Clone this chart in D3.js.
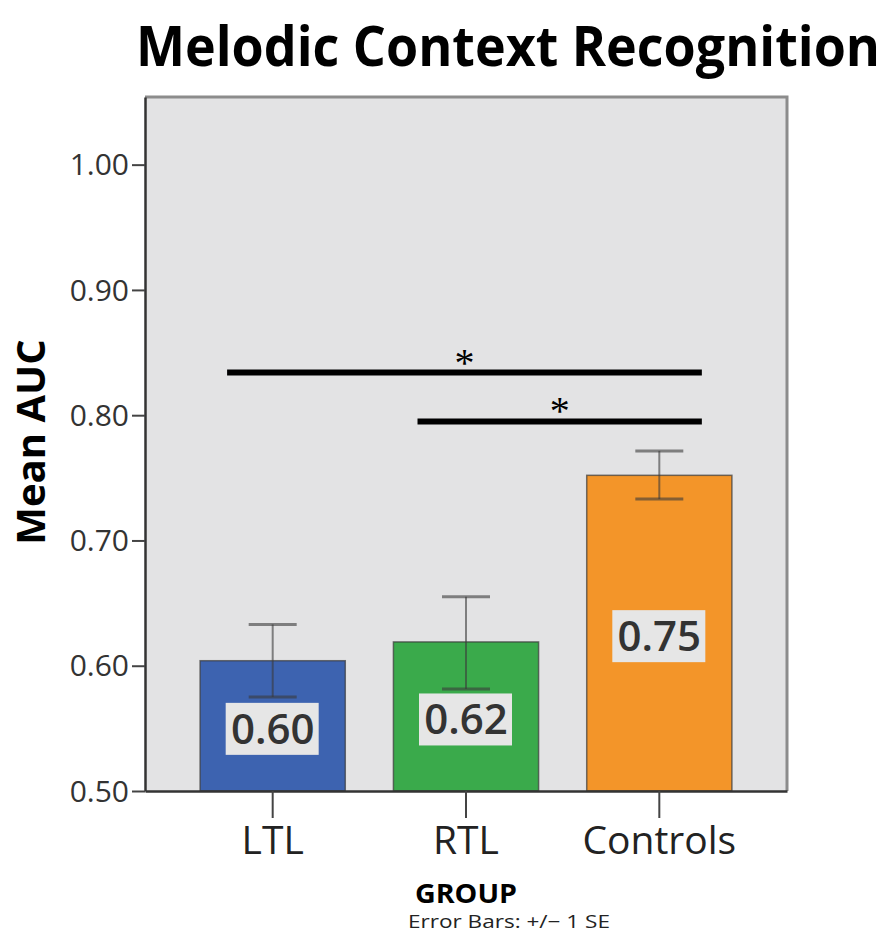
<!DOCTYPE html>
<html><head><meta charset="utf-8">
<script src="https://cdn.jsdelivr.net/npm/d3@7/dist/d3.min.js"></script>
<style>body{margin:0;background:#fff;} svg{display:block;}</style>
</head><body>
<svg id="c" width="893" height="935"></svg>
<script>
const categories = ["LTL", "RTL", "Controls"];
const means = [0.604, 0.619, 0.752];
const errLow = [0.575, 0.5815, 0.733];
const errHigh = [0.633, 0.655, 0.7715];
const valueLabels = ["0.60", "0.62", "0.75"];
const barColors = ["#3d63b0", "#3aaa4b", "#f39529"];
const yTicks = [0.5, 0.6, 0.7, 0.8, 0.9, 1.0];
const sigFrom = ["LTL", "RTL"];
const sigTo = ["Controls", "Controls"];
const sigY = [0.834, 0.795];
const sigStartFrac = [0.186, 0.166];
const sigEndFrac = [0.793, 0.793];

const svg = d3.select("#c");
const L = 145, R = 787, T = 97, B = 791;
const x = d3.scaleBand().domain(categories).range([L, R]).paddingInner(0.249).paddingOuter(0.285);
const y = d3.scaleLinear().domain([0.5, 1.054]).range([B, T]);

// plot background
svg.append("rect").attr("x", L).attr("y", T).attr("width", R - L).attr("height", B - T).attr("fill", "#e3e3e4");
// top/right frame
svg.append("path").attr("d", `M${L},${T}H${R}V${B}`).attr("fill", "none").attr("stroke", "#8c8c8c").attr("stroke-width", 3);

// bars
const bw = x.bandwidth();
svg.selectAll("rect.bar").data(categories).enter().append("rect").attr("class", "bar")
  .attr("x", d => x(d)).attr("width", bw)
  .attr("y", (d, i) => y(means[i])).attr("height", (d, i) => y(0.5) - y(means[i]))
  .attr("fill", (d, i) => barColors[i]).attr("stroke", "#3a3a3a").attr("stroke-opacity", 0.7).attr("stroke-width", 1.5);

// error bars
const eg = svg.append("g").attr("stroke", "#3a3a3a").attr("stroke-opacity", 0.6).attr("stroke-width", 2).attr("fill", "none");
categories.forEach((c, i) => {
  const cx = x(c) + bw / 2, cw = 24;
  eg.append("line").attr("x1", cx).attr("x2", cx).attr("y1", y(errLow[i])).attr("y2", y(errHigh[i]));
  eg.append("line").attr("x1", cx - cw).attr("x2", cx + cw).attr("y1", y(errLow[i])).attr("y2", y(errLow[i])).attr("stroke-width", 3);
  eg.append("line").attr("x1", cx - cw).attr("x2", cx + cw).attr("y1", y(errHigh[i])).attr("y2", y(errHigh[i])).attr("stroke-width", 3);
});

// value labels
categories.forEach((c, i) => {
  const cx = x(c) + bw / 2;
  const cy = (y(means[i]) + y(0.5)) / 2 + 3;
  svg.append("rect").attr("x", cx - 47).attr("y", cy - 26).attr("width", 93).attr("height", 52).attr("fill", "#e6e6e6");
  svg.append("text").attr("x", cx).attr("y", cy + 15).attr("text-anchor", "middle")
    .attr("font-family", "Open Sans").attr("font-size", 42).attr("font-weight", 600).attr("fill", "#333")
    .text(valueLabels[i]);
});

// significance lines
sigFrom.forEach((f, i) => {
  const x1 = x(f) + bw * sigStartFrac[i], x2 = x(sigTo[i]) + bw * sigEndFrac[i];
  svg.append("line").attr("x1", x1).attr("x2", x2).attr("y1", y(sigY[i])).attr("y2", y(sigY[i]))
    .attr("stroke", "#000").attr("stroke-width", 6);
  svg.append("text").attr("x", (x1 + x2) / 2).attr("y", y(sigY[i]) + 3).attr("text-anchor", "middle")
    .attr("font-family", "Liberation Serif").attr("font-size", 40).attr("fill", "#000").text("*");
});

// y axis
const ya = svg.append("g").attr("transform", `translate(${L},0)`)
  .call(d3.axisLeft(y).tickValues(yTicks).tickFormat(d3.format(".2f")).tickSize(13).tickSizeOuter(0).tickPadding(3));
ya.select(".domain").attr("stroke", "#333").attr("stroke-width", 2.5);
ya.selectAll(".tick line").attr("stroke", "#444").attr("stroke-width", 2);
ya.selectAll(".tick text").attr("font-family", "Open Sans").attr("font-size", 30).attr("fill", "#333").attr("dy", "0.34em");

// x axis
const xa = svg.append("g").attr("transform", `translate(0,${B})`)
  .call(d3.axisBottom(x).tickSize(27).tickPadding(8).tickSizeOuter(0));
xa.select(".domain").attr("stroke", "#333").attr("stroke-width", 2.5);
xa.selectAll(".tick line").attr("stroke", "#444").attr("stroke-width", 2);
xa.selectAll(".tick text").attr("font-family", "Open Sans").attr("font-size", 39).attr("fill", "#222");

// titles
svg.append("text").attr("transform", "translate(136,66) scale(1,1.22)").attr("font-family", "Open Sans").attr("font-weight", 700)
  .attr("font-size", 46).attr("textLength", 744).attr("lengthAdjust", "spacingAndGlyphs").attr("fill", "#000")
  .text("Melodic Context Recognition");
svg.append("text").attr("transform", "translate(45,442) rotate(-90)").attr("text-anchor", "middle")
  .attr("font-family", "Open Sans").attr("font-weight", 700).attr("font-size", 40).attr("fill", "#000").text("Mean AUC");
svg.append("text").attr("x", 466).attr("y", 903).attr("text-anchor", "middle").attr("font-family", "Open Sans")
  .attr("font-weight", 700).attr("font-size", 26).attr("textLength", 102).attr("lengthAdjust", "spacingAndGlyphs").text("GROUP");
svg.append("text").attr("x", 408).attr("y", 928).attr("font-family", "Open Sans").attr("font-size", 18)
  .attr("textLength", 202).attr("lengthAdjust", "spacingAndGlyphs").attr("fill", "#222").text("Error Bars: +/\u2212 1 SE");
</script>
</body></html>
